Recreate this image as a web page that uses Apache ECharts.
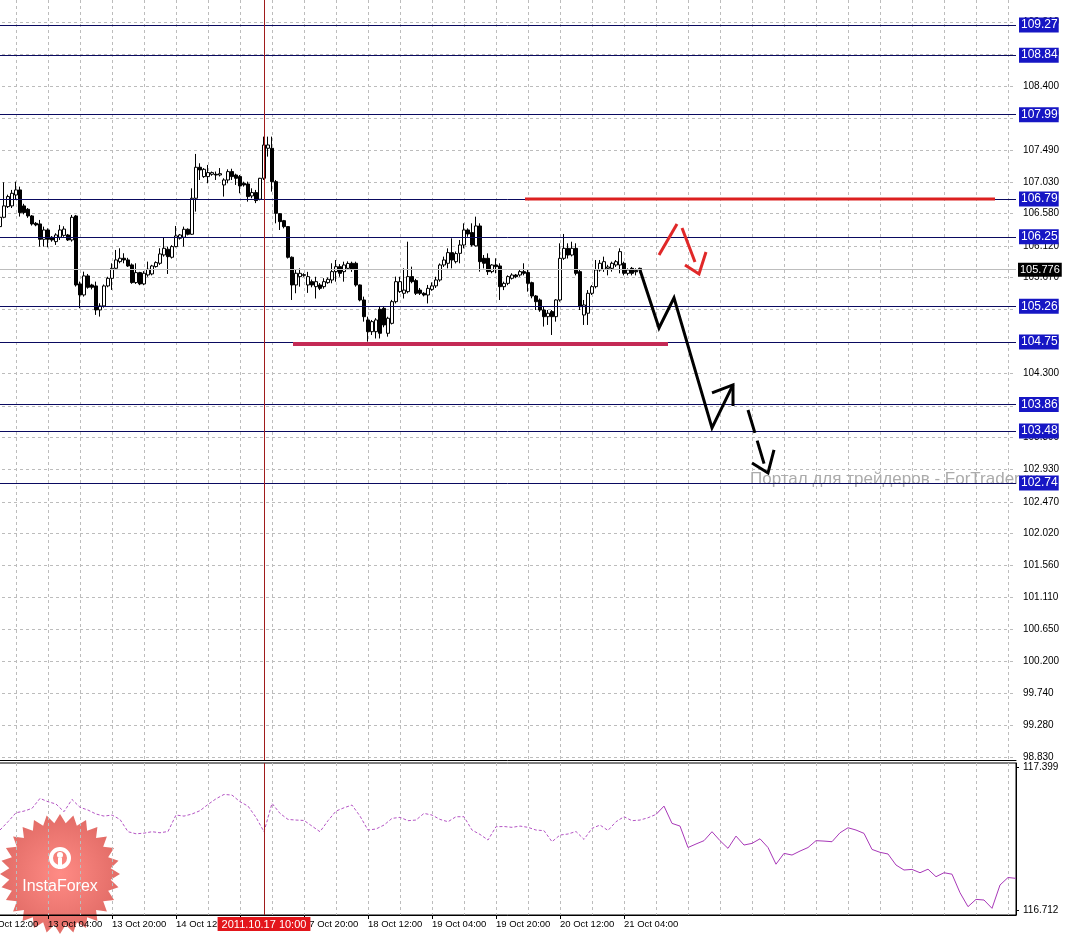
<!DOCTYPE html>
<html>
<head>
<meta charset="utf-8">
<script src="https://cdn.jsdelivr.net/npm/echarts@6/dist/echarts.min.js"></script>
<style>
html, body { margin: 0; padding: 0; background: #fff; }
#chart { width: 1068px; height: 935px; }
</style>
</head>
<body>
<div id="chart"></div>
<script>
// H1 bars, slot 0 = 12 Oct 12:00, one slot per hour (weekend skipped)
var timeLabels = ['12 Oct 12:00', '13 Oct 04:00', '13 Oct 20:00', '14 Oct 12:00', '17 Oct 04:00',
    '17 Oct 20:00', '18 Oct 12:00', '19 Oct 04:00', '19 Oct 20:00', '20 Oct 12:00', '21 Oct 04:00'];
var markedTime = '2011.10.17 10:00';
var markedSlot = 70;

// open, close, low, high  (first bar is slot 4)
var candleStart = 4;
var candles = [
    [106.395, 106.528, 106.300, 106.585], [106.528, 106.690, 106.514, 107.027], [106.680, 106.823, 106.660, 106.850],
    [106.690, 106.870, 106.660, 106.918], [106.846, 106.918, 106.780, 107.036], [106.918, 106.595, 106.538, 106.965],
    [106.690, 106.595, 106.570, 106.720], [106.642, 106.547, 106.520, 106.660], [106.547, 106.433, 106.410, 106.560],
    [106.442, 106.419, 106.400, 106.460], [106.433, 106.214, 106.110, 106.490], [106.214, 106.347, 106.110, 106.395],
    [106.347, 106.214, 106.100, 106.370], [106.243, 106.205, 106.180, 106.260], [106.181, 106.276, 106.134, 106.300],
    [106.243, 106.347, 106.205, 106.419], [106.270, 106.360, 106.250, 106.400], [106.276, 106.205, 106.190, 106.290],
    [106.205, 106.528, 106.181, 106.561], [106.547, 105.563, 105.540, 106.561], [105.578, 105.421, 105.231, 105.611],
    [105.421, 105.692, 105.397, 105.753], [105.692, 105.530, 105.510, 105.720], [105.563, 105.530, 105.500, 105.580],
    [105.549, 105.207, 105.136, 105.611], [105.207, 105.264, 105.112, 105.302], [105.264, 105.549, 105.240, 105.570],
    [105.549, 105.658, 105.530, 105.680], [105.658, 105.801, 105.492, 105.872], [105.801, 105.920, 105.777, 106.062],
    [105.896, 105.944, 105.872, 106.086], [105.944, 105.920, 105.872, 106.015], [105.920, 105.834, 105.820, 105.950],
    [105.849, 105.597, 105.580, 105.870], [105.597, 105.739, 105.578, 105.872], [105.739, 105.578, 105.560, 105.750],
    [105.578, 105.730, 105.560, 105.760], [105.706, 105.787, 105.680, 105.896], [105.720, 105.834, 105.700, 105.850],
    [105.825, 105.882, 105.810, 105.900], [105.872, 106.005, 105.849, 106.086], [105.991, 106.086, 105.967, 106.243],
    [106.072, 105.967, 105.720, 106.110], [105.958, 106.110, 105.940, 106.130], [106.110, 106.262, 106.100, 106.404],
    [106.229, 106.276, 106.210, 106.290], [106.243, 106.357, 106.110, 106.395], [106.357, 106.286, 106.270, 106.370],
    [106.286, 106.799, 106.276, 106.941], [106.799, 107.241, 106.609, 107.431], [107.241, 107.203, 107.060, 107.298],
    [107.108, 107.212, 107.090, 107.230], [107.108, 107.165, 107.013, 107.274], [107.141, 107.165, 107.120, 107.180],
    [107.141, 107.131, 107.060, 107.180], [107.131, 107.150, 107.110, 107.230], [106.989, 107.060, 106.823, 107.084],
    [107.060, 107.179, 107.013, 107.212], [107.179, 107.108, 107.060, 107.220], [107.131, 107.084, 106.989, 107.150],
    [107.108, 106.975, 106.870, 107.131], [107.013, 106.989, 106.965, 107.036], [107.003, 106.823, 106.751, 107.036],
    [106.832, 106.880, 106.799, 106.941], [106.880, 106.766, 106.730, 106.918], [106.785, 107.084, 106.770, 107.090],
    [107.084, 107.559, 107.060, 107.678], [107.512, 107.559, 107.393, 107.678], [107.512, 107.036, 106.894, 107.678],
    [107.036, 106.585, 106.442, 107.060], [106.580, 106.466, 106.347, 106.585], [106.480, 106.395, 106.370, 106.490],
    [106.395, 105.958, 105.940, 106.400], [105.958, 105.563, 105.349, 105.970], [105.563, 105.730, 105.445, 105.777],
    [105.682, 105.729, 105.539, 105.800], [105.700, 105.710, 105.680, 105.730], [105.563, 105.682, 105.450, 105.750],
    [105.610, 105.563, 105.530, 105.640], [105.539, 105.610, 105.370, 105.680], [105.563, 105.515, 105.490, 105.590],
    [105.539, 105.610, 105.510, 105.660], [105.596, 105.644, 105.580, 105.670], [105.634, 105.753, 105.587, 105.872],
    [105.753, 105.824, 105.610, 105.919], [105.824, 105.729, 105.680, 105.860], [105.753, 105.848, 105.610, 105.895],
    [105.800, 105.870, 105.780, 105.900], [105.872, 105.786, 105.750, 105.895], [105.872, 105.563, 105.539, 105.895],
    [105.563, 105.349, 105.330, 105.570], [105.349, 105.111, 105.040, 105.397], [105.064, 104.897, 104.755, 105.111],
    [104.897, 105.040, 104.850, 105.064], [104.897, 105.064, 104.800, 105.090], [105.216, 104.874, 104.800, 105.254],
    [105.230, 104.993, 104.960, 105.260], [104.874, 105.088, 104.826, 105.110], [105.016, 105.325, 105.000, 105.350],
    [105.325, 105.610, 105.300, 105.682], [105.468, 105.610, 105.450, 105.680], [105.444, 105.490, 105.370, 105.800],
    [105.468, 105.682, 105.444, 106.180], [105.682, 105.610, 105.587, 105.824], [105.625, 105.444, 105.420, 105.650],
    [105.490, 105.444, 105.420, 105.520], [105.444, 105.420, 105.400, 105.460], [105.420, 105.515, 105.300, 105.563],
    [105.500, 105.550, 105.480, 105.600], [105.550, 105.634, 105.520, 105.680], [105.634, 105.848, 105.610, 105.870],
    [105.848, 105.919, 105.820, 105.967], [105.872, 106.024, 105.800, 106.085], [106.024, 105.919, 105.800, 106.228],
    [105.895, 106.010, 105.870, 106.040], [106.014, 106.133, 105.872, 106.204], [106.133, 106.347, 106.085, 106.442],
    [106.347, 106.290, 106.250, 106.370], [106.310, 106.133, 106.110, 106.442], [106.120, 106.404, 106.110, 106.537],
    [106.404, 105.895, 105.753, 106.442], [105.943, 105.872, 105.800, 105.990], [105.943, 105.753, 105.706, 106.014],
    [105.753, 105.848, 105.730, 105.860], [105.848, 105.824, 105.730, 105.943], [105.834, 105.539, 105.349, 105.872],
    [105.539, 105.586, 105.490, 105.610], [105.586, 105.682, 105.560, 105.700], [105.658, 105.705, 105.640, 105.730],
    [105.705, 105.680, 105.660, 105.720], [105.705, 105.753, 105.680, 105.780], [105.753, 105.729, 105.700, 105.872],
    [105.740, 105.586, 105.468, 105.777], [105.596, 105.406, 105.373, 105.610], [105.406, 105.325, 105.206, 105.420],
    [105.349, 105.206, 105.180, 105.370], [105.206, 105.111, 104.970, 105.254], [105.111, 105.160, 104.993, 105.206],
    [105.183, 105.111, 104.850, 105.206], [105.111, 105.349, 105.040, 105.360], [105.349, 105.943, 105.325, 106.157],
    [105.943, 106.085, 105.920, 106.290], [106.085, 105.990, 105.940, 106.157], [105.990, 106.085, 105.970, 106.180],
    [106.085, 105.729, 105.700, 106.157], [105.753, 105.254, 105.206, 105.777], [105.135, 105.278, 104.993, 105.349],
    [105.160, 105.444, 104.993, 105.490], [105.444, 105.539, 105.420, 105.560], [105.539, 105.777, 105.515, 105.919],
    [105.777, 105.872, 105.753, 105.919], [105.786, 105.895, 105.750, 105.967], [105.800, 105.820, 105.700, 105.850],
    [105.800, 105.872, 105.753, 105.895], [105.848, 105.895, 105.820, 105.919], [105.848, 106.038, 105.729, 106.085],
    [105.872, 105.729, 105.700, 105.895], [105.729, 105.777, 105.700, 105.800], [105.800, 105.729, 105.700, 105.820],
    [105.770, 105.750, 105.700, 105.800], [105.800, 105.776, 105.730, 105.810]
];

var priceTicks = [98.83, 99.28, 99.74, 100.20, 100.65, 101.11, 101.56, 102.02, 102.47, 102.93, 103.39, 103.84,
    104.30, 104.75, 105.21, 105.67, 106.12, 106.58, 107.03, 107.49, 107.94, 108.40, 108.85, 109.31];
var levels = [109.27, 108.84, 107.99, 106.79, 106.25, 105.26, 104.75, 103.86, 103.48, 102.74];
var lastPrice = 105.776;

// lower window line, one reading every 2 bars
var indStep = 2;
var indDashedStart = 4;
var indDashed = [
    117.098, 117.138, 117.181, 117.189, 117.202, 117.250, 117.234, 117.223, 117.186, 117.245, 117.207, 117.194,
    117.175, 117.165, 117.170, 117.149, 117.090, 117.080, 117.083, 117.090, 117.085, 117.091, 117.170, 117.165,
    117.175, 117.191, 117.221, 117.248, 117.269, 117.266, 117.234, 117.213, 117.159, 117.090, 117.226, 117.178,
    117.149, 117.146, 117.144, 117.117, 117.090, 117.143, 117.189, 117.205, 117.218, 117.165, 117.098, 117.103,
    117.122, 117.154, 117.159, 117.143, 117.146, 117.178, 117.170, 117.149, 117.138, 117.162, 117.162, 117.098,
    117.077, 117.050, 117.114, 117.115, 117.111, 117.117, 117.111, 117.098, 117.095, 117.042, 117.074, 117.079,
    117.091, 117.053, 117.106, 117.122, 117.096, 117.138, 117.162, 117.143, 117.146, 117.157, 117.173
];
var indSolidStart = 168;
var indSolid = [
    117.173, 117.213, 117.130, 117.117, 117.014, 117.031, 117.047, 117.090, 117.047, 117.010, 117.069, 117.026,
    117.034, 117.056, 117.014, 116.934, 116.986, 116.978, 116.997, 117.014, 117.047, 117.045, 117.042, 117.085,
    117.109, 117.098, 117.082, 117.005, 116.991, 116.983, 116.930, 116.906, 116.909, 116.893, 116.910, 116.874,
    116.893, 116.886, 116.797, 116.730, 116.765, 116.762, 116.722, 116.834, 116.870, 116.866
];
var indLabels = [117.399, 116.712];

// drawn annotations, [bar slot, price]
var supportLine = [[77.25, 104.722], [171, 104.722]];
var resistanceLine = [[135.25, 106.79], [252.75, 106.79]];
var forecastPath = [[164, 105.776], [168.75, 104.95], [172.5, 105.378], [182, 103.525], [187.25, 104.138]];
var forecastHead = [[182, 104.024], [187.25, 104.138], [187.25, 103.838]];
var altShaft = [[191, 103.781], [195.2, 102.98]];
var altHead = [[192, 103.026], [196, 102.883], [197.5, 103.211]];
var bounceUp = [[168.75, 105.991], [173.25, 106.433]];
var bounceDown = [[174.5, 106.376], [177.75, 105.891]];
var bounceHead = [[175.25, 105.848], [178.75, 105.720], [180.5, 106.034]];

var nSlots = 259;
var slots = [];
for (var i = 0; i < nSlots; i++) slots.push(String(i));

var candleData = [];
for (var j = 0; j < candleStart; j++) candleData.push('-');
candleData = candleData.concat(candles);

function pairs(values, start, step) {
    return values.map(function (v, i) { return [start + i * step, v]; });
}

var font = 'Liberation Sans';
var gridLine = { show: true, lineStyle: { color: '#bcbcbc', width: 1, type: [3, 3] } };
var every8 = function (idx) { return idx % 8 === 0; };
var labelAt = function (idx) { return idx % 16 === 0 && idx / 16 < timeLabels.length; };

function drawLine(data, color, width, type) {
    return {
        type: 'line', xAxisIndex: 1, yAxisIndex: 0, data: data, symbol: 'none', silent: true, z: 5,
        lineStyle: { color: color, width: width, type: type || 'solid', join: 'miter', cap: 'butt' }
    };
}

var star = [];
for (var s = 0; s < 56; s++) {
    var r = s % 2 ? 51 : 60;
    var a = Math.PI * 2 * s / 56;
    star.push([60 + r * Math.cos(a), 874 + r * Math.sin(a)]);
}

var chart = echarts.init(document.getElementById('chart'));
chart.setOption({
    animation: false,
    backgroundColor: '#ffffff',
    grid: [
        { left: -16, right: 52, top: 0, height: 760, outerBoundsMode: 'none', containLabel: false },
        { left: -16, right: 52, top: 763, height: 152, outerBoundsMode: 'none', containLabel: false,
          show: true, borderColor: '#000', borderWidth: 1 }
    ],
    xAxis: [
        {
            type: 'category', gridIndex: 0, data: slots, boundaryGap: false,
            axisLine: { show: true, lineStyle: { color: '#000', width: 1 } },
            axisTick: { show: false }, axisLabel: { show: false },
            splitLine: Object.assign({ interval: every8 }, gridLine)
        },
        { type: 'value', gridIndex: 0, min: 0, max: nSlots - 1, show: false, splitLine: { show: false } },
        {
            type: 'category', gridIndex: 1, data: slots, boundaryGap: false,
            axisLine: { show: true, lineStyle: { color: '#000', width: 1 } },
            axisTick: { show: true, interval: labelAt, length: 4, lineStyle: { color: '#000' } },
            axisLabel: {
                interval: labelAt, align: 'left', margin: 4, color: '#000',
                fontSize: 9.5, fontFamily: font,
                formatter: function (v, idx) { return timeLabels[idx / 16]; }
            },
            splitLine: Object.assign({ interval: every8 }, gridLine)
        }
    ],
    yAxis: [
        {
            type: 'value', gridIndex: 0, position: 'right', min: 98.79, max: 109.626,
            axisLine: { show: true, lineStyle: { color: '#000', width: 1 } },
            axisTick: { show: true, customValues: priceTicks, length: 3, lineStyle: { color: '#000' } },
            axisLabel: {
                customValues: priceTicks, margin: 7, color: '#000', fontSize: 10, fontFamily: font,
                formatter: function (v) { return v.toFixed(3); }
            },
            splitLine: gridLine
        },
        {
            type: 'value', gridIndex: 1, position: 'right', min: 116.69, max: 117.42,
            axisLine: { show: true, lineStyle: { color: '#000', width: 1 } },
            axisTick: { show: true, customValues: indLabels, length: 3, lineStyle: { color: '#000' } },
            axisLabel: {
                customValues: indLabels, margin: 7, color: '#000', fontSize: 10, fontFamily: font,
                formatter: function (v) { return v.toFixed(3); }
            },
            splitLine: { show: false }
        }
    ],
    graphic: [
        {
            type: 'polygon', z: -1, shape: { points: star },
            style: {
                fill: new echarts.graphic.RadialGradient(0.5, 0.5, 0.5, [
                    { offset: 0, color: '#ff817a' }, { offset: 1, color: '#e0605a' }
                ]),
                opacity: 0.92
            }
        },
        { type: 'circle', z: -1, shape: { cx: 60, cy: 858, r: 9 }, style: { fill: 'none', stroke: '#fff', lineWidth: 4 } },
        { type: 'circle', z: -1, shape: { cx: 60, cy: 855, r: 3 }, style: { fill: '#fff' } },
        { type: 'rect', z: -1, shape: { x: 58, y: 858, width: 4, height: 11 }, style: { fill: '#fff' } },
        {
            type: 'text', z: -1, x: 60, y: 887,
            style: { text: 'InstaForex', fill: '#ffffff', fontSize: 16, fontFamily: font, align: 'center', verticalAlign: 'middle' }
        },
        {
            type: 'text', z: 1, x: 750, y: 479,
            style: { text: 'Портал для трейдеров - ForTrader.ru', fill: '#ababab', fontSize: 17, fontFamily: font, verticalAlign: 'middle' }
        }
    ],
    series: [
        {
            type: 'candlestick', xAxisIndex: 0, yAxisIndex: 0, data: candleData, barWidth: 3, silent: true,
            itemStyle: { color: '#ffffff', color0: '#000000', borderColor: '#000000', borderColor0: '#000000', borderWidth: 1 },
            markLine: {
                silent: true, symbol: ['none', 'none'], animation: false,
                data: levels.map(function (v) {
                    return {
                        yAxis: v,
                        lineStyle: { color: '#0a0a60', width: 1, type: 'solid' },
                        label: {
                            show: true, position: 'end', distance: 3, formatter: v.toFixed(2),
                            color: '#fff', backgroundColor: '#1616c4', fontSize: 12, fontFamily: font, padding: [2, 1, 1, 2]
                        }
                    };
                }).concat([
                    {
                        yAxis: lastPrice,
                        lineStyle: { color: '#bdbdbd', width: 1, type: 'solid' },
                        label: {
                            show: true, position: 'end', distance: 2, formatter: lastPrice.toFixed(3),
                            color: '#fff', backgroundColor: '#000', fontSize: 11, fontFamily: font, padding: [2, 2, 1, 2]
                        }
                    },
                    {
                        xAxis: String(markedSlot),
                        lineStyle: { color: '#a01c1c', width: 1, type: 'solid' },
                        label: { show: false }
                    }
                ])
            }
        },
        {
            type: 'line', xAxisIndex: 2, yAxisIndex: 1, data: pairs(indDashed, indDashedStart, indStep),
            symbol: 'none', silent: true, lineStyle: { color: '#b455c4', width: 1, type: [3, 2] },
            markLine: {
                silent: true, symbol: ['none', 'none'], animation: false,
                data: [{
                    xAxis: String(markedSlot),
                    lineStyle: { color: '#a01c1c', width: 1, type: 'solid' },
                    label: {
                        show: true, position: 'start', distance: 2, formatter: markedTime,
                        color: '#fff', backgroundColor: '#e3161b', fontSize: 11, fontFamily: font, padding: [2, 4, 1, 4]
                    }
                }]
            }
        },
        {
            type: 'line', xAxisIndex: 2, yAxisIndex: 1, data: pairs(indSolid, indSolidStart, indStep),
            symbol: 'none', silent: true, lineStyle: { color: '#a838b8', width: 1 }
        },
        drawLine(resistanceLine, '#dc2020', 3),
        drawLine(supportLine, '#c42a55', 4),
        drawLine(forecastPath, '#000', 3),
        drawLine(forecastHead, '#000', 3),
        drawLine(altShaft, '#000', 3, [24, 8]),
        drawLine(altHead, '#000', 3),
        drawLine(bounceUp, '#e02828', 3),
        drawLine(bounceDown, '#e02828', 3),
        drawLine(bounceHead, '#e02828', 3)
    ]
});
</script>
</body>
</html>
